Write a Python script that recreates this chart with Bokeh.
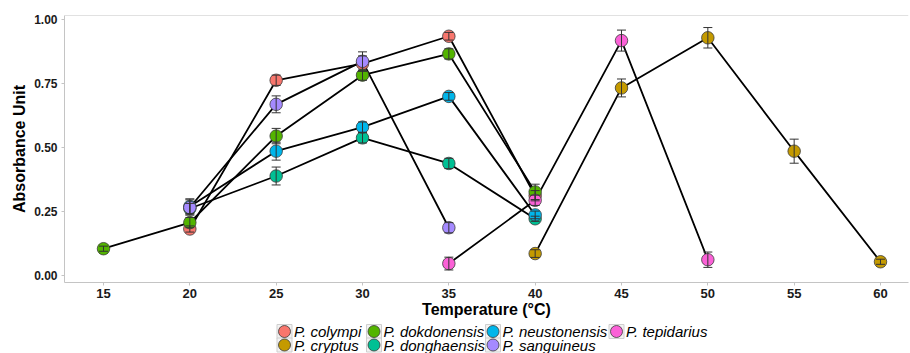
from bokeh.plotting import figure
from bokeh.layouts import column
from bokeh.models import (Range1d, FixedTicker, ColumnDataSource, Whisker,
                          Span, NumeralTickFormatter, TeeHead)
from bokeh.core.properties import value
from bokeh.embed import file_html
from bokeh.resources import INLINE

species = ["P. colympi", "P. cryptus", "P. dokdonensis", "P. donghaensis",
           "P. neustonensis", "P. sanguineus", "P. tepidarius"]
colors = ["#F8766D", "#C49A00", "#53B400", "#00C094", "#00B6EB", "#A58AFF", "#FB61D7"]

temp_colympi = [20, 25, 30, 35, 40]
abs_colympi = [0.182, 0.763, 0.828, 0.935, 0.312]
sd_colympi = [0.012, 0.02, 0.03, 0.015, 0.02]

temp_cryptus = [40, 45, 50, 55, 60]
abs_cryptus = [0.086, 0.733, 0.929, 0.486, 0.054]
sd_cryptus = [0.015, 0.035, 0.04, 0.047, 0.01]

temp_dokdonensis = [15, 20, 25, 30, 35, 40]
abs_dokdonensis = [0.105, 0.207, 0.545, 0.783, 0.866, 0.327]
sd_dokdonensis = [0.01, 0.02, 0.03, 0.02, 0.02, 0.03]

temp_donghaensis = [20, 25, 30, 35, 40]
abs_donghaensis = [0.262, 0.389, 0.538, 0.438, 0.222]
sd_donghaensis = [0.02, 0.035, 0.02, 0.02, 0.01]

temp_neustonensis = [20, 25, 30, 35, 40]
abs_neustonensis = [0.27, 0.486, 0.58, 0.70, 0.237]
sd_neustonensis = [0.03, 0.035, 0.02, 0.015, 0.015]

temp_sanguineus = [20, 25, 30, 35]
abs_sanguineus = [0.266, 0.669, 0.837, 0.187]
sd_sanguineus = [0.03, 0.033, 0.037, 0.02]

temp_tepidarius = [35, 40, 45, 50]
abs_tepidarius = [0.047, 0.294, 0.918, 0.062]
sd_tepidarius = [0.025, 0.02, 0.041, 0.03]

x_ticks = [15, 20, 25, 30, 35, 40, 45, 50, 55, 60]
y_ticks = [0.0, 0.25, 0.5, 0.75, 1.0]

series = [
    (temp_colympi, abs_colympi, sd_colympi),
    (temp_cryptus, abs_cryptus, sd_cryptus),
    (temp_dokdonensis, abs_dokdonensis, sd_dokdonensis),
    (temp_donghaensis, abs_donghaensis, sd_donghaensis),
    (temp_neustonensis, abs_neustonensis, sd_neustonensis),
    (temp_sanguineus, abs_sanguineus, sd_sanguineus),
    (temp_tepidarius, abs_tepidarius, sd_tepidarius),
]

FONT = "Liberation Sans"
GREY = "#C4C4C4"
X_MIN, X_MAX = 12.741, 61.622
Y_MIN, Y_MAX = -0.027, 1.016
W = 910
H_MAIN = 323
H_LEG = 30
FRAME_L, FRAME_R = 64, 908

p = figure(width=W, height=H_MAIN, output_backend="svg", toolbar_location=None,
           x_range=Range1d(X_MIN, X_MAX), y_range=Range1d(Y_MIN, Y_MAX),
           min_border_left=FRAME_L, min_border_top=15, min_border_right=W - FRAME_R,
           min_border_bottom=H_MAIN - 282)
p.outline_line_color = None
p.xgrid.visible = False
p.ygrid.visible = False
p.background_fill_color = "white"

p.xaxis.ticker = FixedTicker(ticks=x_ticks)
p.yaxis.ticker = FixedTicker(ticks=y_ticks)
p.yaxis.formatter = NumeralTickFormatter(format="0.00")
p.xaxis.axis_label = "Temperature (°C)"
p.yaxis.axis_label = "Absorbance Unit"
for ax in (p.xaxis, p.yaxis):
    ax.axis_line_color = GREY
    ax.major_tick_line_color = GREY
    ax.minor_tick_line_color = None
    ax.major_tick_out = 3
    ax.major_tick_in = 0
    ax.major_label_text_font = FONT
    ax.major_label_text_font_style = "bold"
    ax.major_label_text_color = "#1a1a1a"
    ax.axis_label_text_font = FONT
    ax.axis_label_text_font_style = "bold"
    ax.axis_label_text_font_size = "16px"
    ax.axis_label_text_color = "#000000"
p.xaxis.major_label_text_font_size = "13px"
p.yaxis.major_label_text_font_size = "12px"
p.xaxis.major_label_standoff = 3
p.xaxis.axis_label_standoff = 0
p.yaxis.major_label_standoff = 4
p.yaxis.axis_label_standoff = 3

p.add_layout(Span(location=Y_MAX, dimension="width", line_color=GREY, line_width=1))

sources = []
for (t, a, s) in series:
    sources.append(ColumnDataSource(dict(
        x=t, y=a,
        upper=[v + e for v, e in zip(a, s)],
        lower=[v - e for v, e in zip(a, s)])))

for src in sources:
    p.line("x", "y", source=src, line_color="black", line_width=1.8)

for col, src in zip(colors, sources):
    p.scatter("x", "y", source=src, size=12.5, fill_color=col,
              line_color="#3a3a3a", line_width=0.8)

for src in sources:
    head_u = TeeHead(size=9, line_color="#333333", line_width=1)
    head_l = TeeHead(size=9, line_color="#333333", line_width=1)
    p.add_layout(Whisker(base="x", upper="upper", lower="lower", source=src,
                         dimension="height", line_color="#333333", line_width=1,
                         upper_head=head_u, lower_head=head_l, level="overlay"))

# ---- legend strip (two rows, filled column by column, like the reference) ----
# layout positions in page pixels (legend strip x range maps 1:1 to the page)
key_col_x = [284, 373.5, 492.5, 616]
key_row_y = [8, 21.5]
text_gap = 9.5

lp = figure(width=W, height=H_LEG, output_backend="svg", toolbar_location=None,
            x_range=Range1d(FRAME_L, FRAME_R), y_range=Range1d(H_LEG, 0),
            x_axis_type=None, y_axis_type=None,
            min_border_left=FRAME_L, min_border_right=W - FRAME_R,
            min_border_top=0, min_border_bottom=0)
lp.outline_line_color = None
lp.xgrid.visible = False
lp.ygrid.visible = False

kx = [key_col_x[i // 2] for i in range(len(species))]
ky = [key_row_y[i % 2] for i in range(len(species))]
leg_src = ColumnDataSource(dict(kx=kx, ky=ky, tx=[v + text_gap for v in kx],
                                label=species, color=colors))
lp.rect("kx", "ky", width=15, height=14, width_units="screen", height_units="screen",
        source=leg_src, fill_color="#F2F2F2", line_color="#CFCFCF", line_width=1)
lp.scatter("kx", "ky", source=leg_src, size=12, fill_color="color",
           line_color="#3a3a3a", line_width=0.8)
lp.text("tx", "ky", text="label", source=leg_src, text_font=value(FONT),
        text_font_style="italic", text_font_size="15px", text_baseline="middle",
        text_align="left", text_color="#000000")

layout = column(p, lp, spacing=0)
open("out.html", "w").write(file_html(layout, INLINE))
